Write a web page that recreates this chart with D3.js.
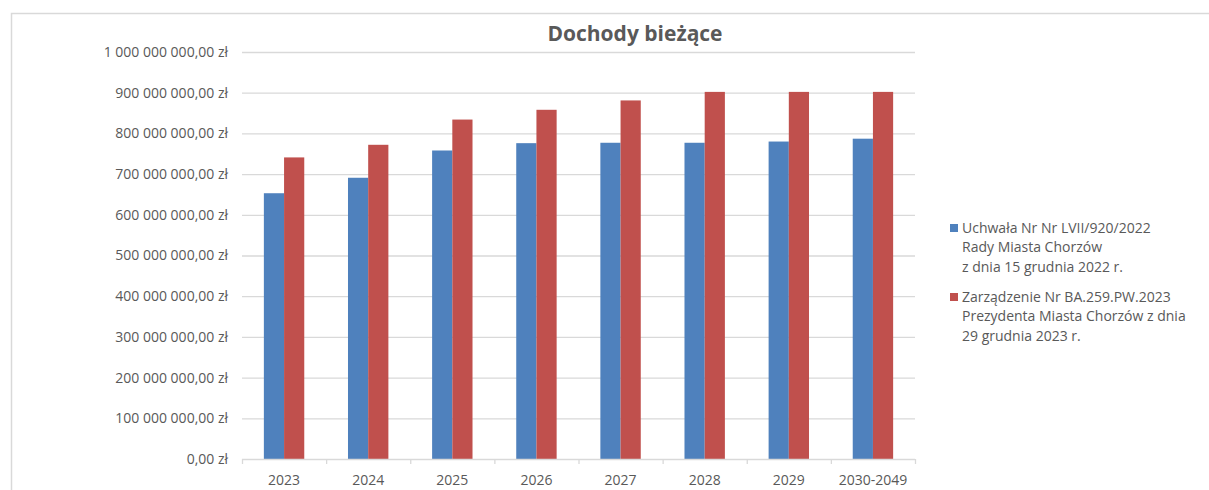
<!DOCTYPE html>
<html><head><meta charset="utf-8">
<script src="https://cdn.jsdelivr.net/npm/d3@7"></script>
<style>body{margin:0;background:#fff}svg{display:block}</style>
</head><body><svg id="c" width="1209" height="490"></svg>
<script>
const categories = ["2023","2024","2025","2026","2027","2028","2029","2030-2049"];
const seriesNames = [
  ["Uchwała Nr Nr LVII/920/2022","Rady Miasta Chorzów","z dnia 15 grudnia 2022 r."],
  ["Zarządzenie Nr BA.259.PW.2023","Prezydenta Miasta Chorzów z dnia","29 grudnia 2023 r."]
];
const seriesA = [653e6, 691e6, 758e6, 776e6, 777e6, 777e6, 780e6, 787e6];
const seriesB = [741e6, 772e6, 834e6, 858e6, 881e6, 902e6, 902e6, 902e6];
const yTicks = [0,1e8,2e8,3e8,4e8,5e8,6e8,7e8,8e8,9e8,1e9];
const colors = ["#4F81BD","#C0504D"];

const svg = d3.select("#c");
const font = "'Open Sans', sans-serif";
// chart border
svg.append("rect").attr("x",11.5).attr("y",13.5).attr("width",1210).attr("height",500)
  .attr("fill","none").attr("stroke","#d9d9d9").attr("stroke-width",1.5);

const x0 = 242, x1 = 915, yTop = 52, yBot = 459;
const x = d3.scaleBand().domain(categories).range([x0,x1]).paddingInner(0).paddingOuter(0);
const y = d3.scaleLinear().domain([0,1e9]).range([yBot,yTop]);

const fmt = v => {
  const s = Math.round(v).toString().replace(/\B(?=(\d{3})+(?!\d))/g, " ");
  return s + ",00 zł";
};

// gridlines
svg.append("g").selectAll("line").data(yTicks.filter(d=>d>0)).join("line")
  .attr("x1",x0).attr("x2",x1).attr("y1",d=>y(d)+0.5).attr("y2",d=>y(d)+0.5)
  .attr("stroke","#d9d9d9").attr("stroke-width",1.3);

// y labels
svg.append("g").selectAll("text").data(yTicks).join("text")
  .attr("x",228).attr("y",d=>y(d)).attr("dy","0.35em").attr("text-anchor","end")
  .attr("font-family",font).attr("font-size",14).attr("fill","#595959").text(fmt);

// bars
const bw = 20.2;
const gw = 2*bw;
const groups = svg.append("g");
[seriesA, seriesB].forEach((s, si) => {
  groups.append("g").selectAll("rect").data(s).join("rect")
    .attr("x",(d,i)=>x(categories[i]) + (x.bandwidth()-gw)/2 + si*bw)
    .attr("y",d=>y(d)).attr("width",bw).attr("height",d=>yBot-y(d))
    .attr("fill",colors[si]);
});

// x axis
const xa = svg.append("g");
xa.append("line").attr("x1",x0).attr("x2",x1).attr("y1",yBot+0.5).attr("y2",yBot+0.5)
  .attr("stroke","#d9d9d9").attr("stroke-width",1.3);
const bounds = categories.map(c=>x(c)).concat([x1]);
xa.selectAll("line.t").data(bounds).join("line").attr("class","t")
  .attr("x1",d=>d+0.5).attr("x2",d=>d+0.5).attr("y1",yBot).attr("y2",yBot+5)
  .attr("stroke","#d9d9d9").attr("stroke-width",1.3);
xa.selectAll("text").data(categories).join("text")
  .attr("x",d=>x(d)+x.bandwidth()/2).attr("y",480).attr("dy","0.35em").attr("text-anchor","middle")
  .attr("font-family",font).attr("font-size",14).attr("fill","#595959").text(d=>d);

// title
svg.append("text").attr("x",635).attr("y",41).attr("text-anchor","middle")
  .attr("font-family",font).attr("font-size",21).attr("font-weight","bold").attr("fill","#595959")
  .text("Dochody bieżące");

// legend
const leg = svg.append("g");
const legTop = [228, 297];
seriesNames.forEach((lines, si) => {
  leg.append("rect").attr("x",950).attr("y",legTop[si]-4).attr("width",8).attr("height",8).attr("fill",colors[si]);
  const t = leg.append("text").attr("font-family",font).attr("font-size",14).attr("fill","#595959");
  lines.forEach((ln, li) => {
    t.append("tspan").attr("x",962).attr("y",legTop[si]+li*19.5).attr("dy","0.35em").text(ln);
  });
});
</script></body></html>
